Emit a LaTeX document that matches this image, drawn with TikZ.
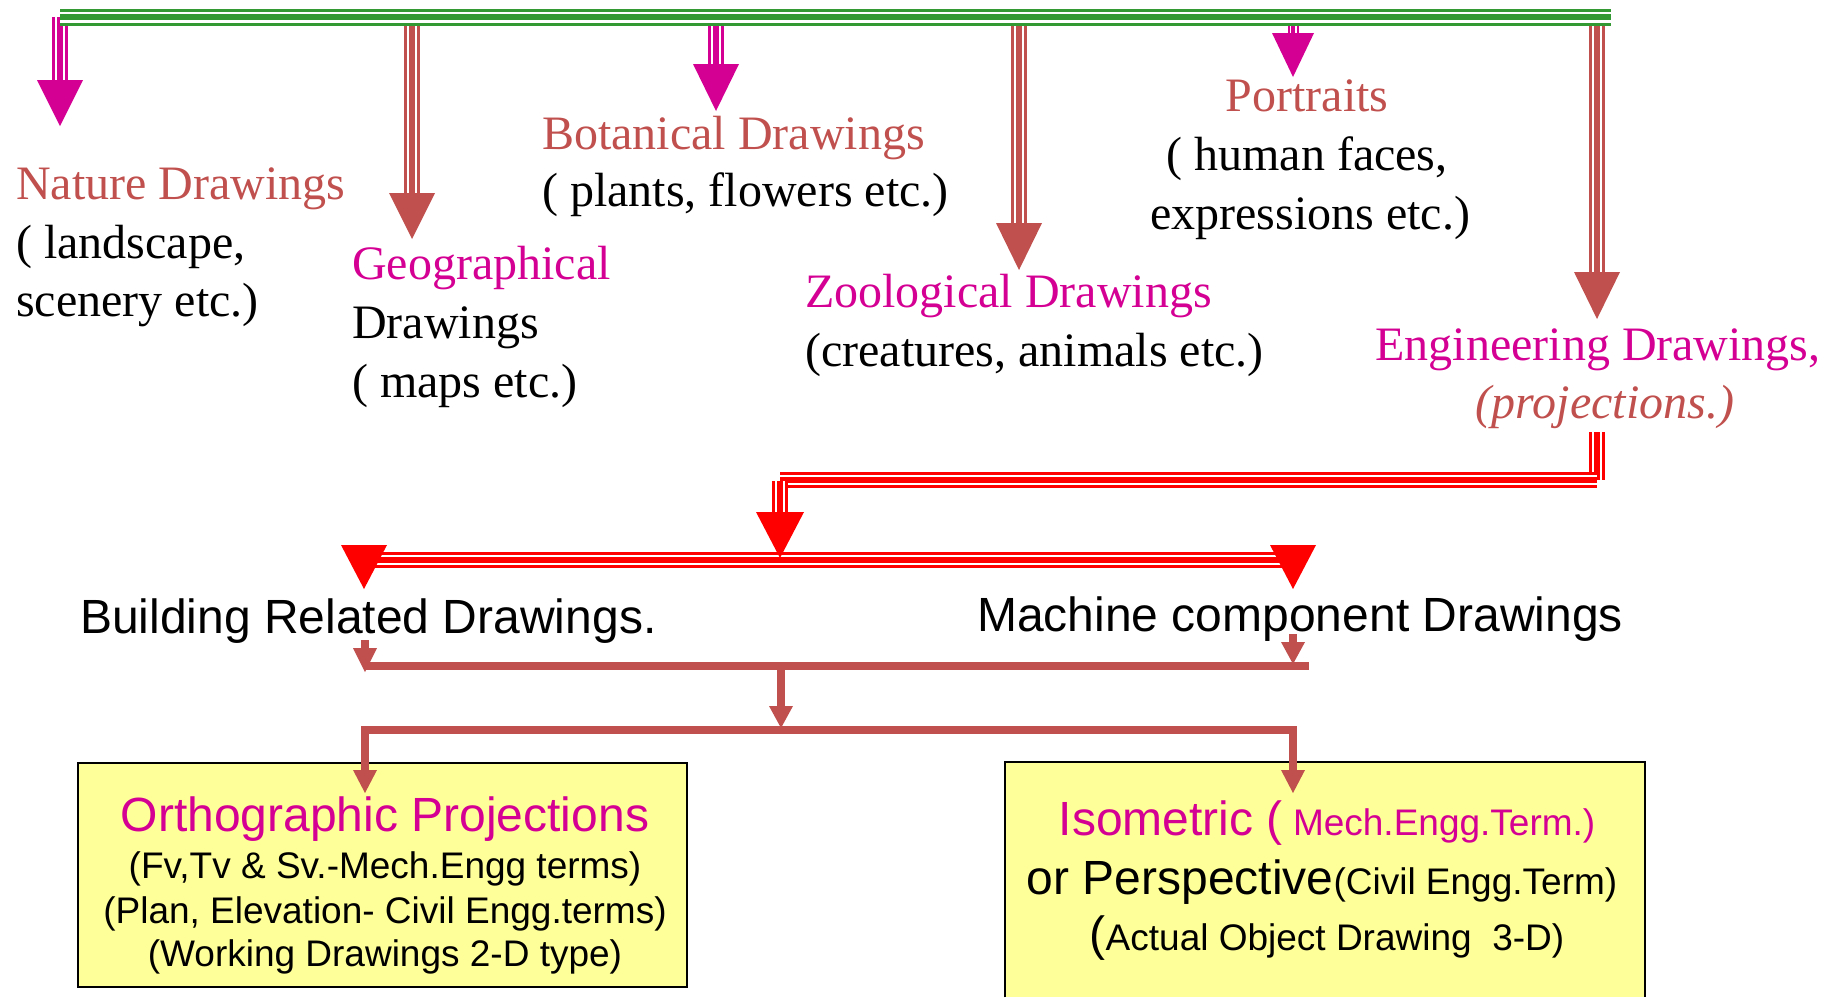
\documentclass[tikz,border=0pt]{standalone}
\usepackage{fontspec}
\setmainfont{Liberation Serif}
\setsansfont{Liberation Sans}
\definecolor{grn}{RGB}{51,153,51}
\definecolor{brn}{RGB}{192,80,77}
\definecolor{mag}{RGB}{212,0,148}
\definecolor{rd}{RGB}{255,0,0}
\definecolor{ylw}{RGB}{255,255,153}
\tikzset{
  tripG/.style={draw=grn, line width=17pt, postaction={draw=white, line width=11pt}, postaction={draw=grn, line width=5.5pt}},
  tripM/.style={draw=mag, line width=15.5pt, postaction={draw=white, line width=10.5pt}, postaction={draw=mag, line width=5.5pt}},
  tripMs/.style={draw=mag, line width=11pt, postaction={draw=white, line width=7pt}, postaction={draw=mag, line width=3.5pt}},
  tripB/.style={draw=brn, line width=15.5pt, postaction={draw=white, line width=10.5pt}, postaction={draw=brn, line width=5.5pt}},
  tripR/.style={draw=rd, line width=16pt, postaction={draw=white, line width=10pt}, postaction={draw=rd, line width=5.5pt}},
  bar/.style={draw=brn, line width=8pt},
  ser/.style={font=\fontsize{48}{58}\selectfont, inner sep=0pt, anchor=base west},
  serc/.style={font=\fontsize{48}{58}\selectfont, inner sep=0pt, anchor=base},
  sanb/.style={font=\sffamily\fontsize{48}{58}\selectfont, inner sep=0pt},
  sans/.style={font=\sffamily\fontsize{37}{45}\selectfont, inner sep=0pt, anchor=base},
  pics/hd/.style args={#1/#2/#3}{code={\fill[#1] (-#2,0) -- (#2,0) -- (0,#3) -- cycle;}}
}
\begin{document}
\begin{tikzpicture}[x=1pt, y=-1pt]
\useasboundingbox (0,0) rectangle (1841,997);

% ---- top level nodes ----
\node[ser, text=brn] (nat) at (16,199) {Nature Drawings};
\node[ser] (nat2) at (16,258) {( landscape,};
\node[ser] (nat3) at (16,316) {scenery etc.)};

\node[ser, text=mag] (geo) at (352,279) {Geographical};
\node[ser] (geo2) at (352,338) {Drawings};
\node[ser] (geo3) at (352,397) {( maps etc.)};

\node[ser, text=brn] (bot) at (542,149) {Botanical Drawings};
\node[ser] (bot2) at (542,206) {( plants, flowers etc.)};

\node[ser, text=mag] (zoo) at (805,307) {Zoological Drawings};
\node[ser] (zoo2) at (805,366) {(creatures, animals etc.)};

\node[serc, text=brn] (por) at (1307,111) {Portraits};
\node[serc] (por2) at (1307,170) {( human faces,};
\node[serc] (por3) at (1310,229) {expressions etc.)};

\node[serc, text=mag] (eng) at (1598,360) {Engineering Drawings,};
\node[serc, text=brn, font=\fontsize{48}{58}\selectfont\itshape] (eng2) at (1605,418) {(projections.)};

% ---- coordinates on the green bar ----
\coordinate (gL) at (60,17);
\coordinate (gR) at (1611,17);
\coordinate (gNat) at (60,17);   \coordinate (hNat) at (60,81);
\coordinate (gGeo) at (412,17);  \coordinate (hGeo) at (412,194);
\coordinate (gBot) at (716,17);  \coordinate (hBot) at (716,65);
\coordinate (gZoo) at (1019,17); \coordinate (hZoo) at (1019,224);
\coordinate (gPor) at (1293,17); \coordinate (hPor) at (1293,34);
\coordinate (gEng) at (1597,17); \coordinate (hEng) at (1597,273);

\draw[tripM] (gNat) -- (hNat);  \pic at (60,80) {hd=mag/23/46};
\draw[tripB] (gGeo) -- (hGeo);  \pic at (412,193) {hd=brn/23/46};
\draw[tripM] (gBot) -- (hBot);  \pic at (716,64) {hd=mag/23/47};
\draw[tripB] (gZoo) -- (hZoo);  \pic at (1019,223) {hd=brn/23/47};
\draw[tripMs] (gPor) -- (hPor); \pic at (1293,33) {hd=mag/21/44};
\draw[tripB] (gEng) -- (hEng);  \pic at (1597,272) {hd=brn/23/47};
\draw[tripG] (gL) -- (gR);

% ---- red distribution ----
\coordinate (r0) at (1597,432);
\coordinate (r1) at (1597,480);
\coordinate (r2) at (780,480);
\coordinate (r2b) at (780,481);
\coordinate (r3) at (780,514);
\draw[tripR] (r0) -- (r1);
\draw[tripR] (r1) -- (r2);
\draw[tripR] (r2b) -- (r3);
\coordinate (rbL) at (364,560);
\coordinate (rbR) at (1293,560);
\draw[tripR] (rbL) -- (rbR);
\pic at (364,545) {hd=rd/23/44};
\pic at (1293,545) {hd=rd/23/44};
\pic at (780,512) {hd=rd/24/46};

% ---- second level ----
\node[sanb, anchor=base west] (bld) at (80,633) {Building Related Drawings.};
\node[sanb, anchor=base west] (mac) at (977,631) {Machine component Drawings};

% ---- boxes ----
\node[draw=black, line width=2pt, fill=ylw, minimum width=609pt, minimum height=224pt, anchor=north west, inner sep=0pt] (boxL) at (77,762) {};
\node[fill=ylw, minimum width=640pt, minimum height=235pt, anchor=north west, inner sep=0pt] (boxR) at (1005,762) {};
\draw[black, line width=2pt] (boxR.south west) -- (boxR.north west) -- (boxR.north east) -- (boxR.south east);

\node[sanb, anchor=base, text=mag] (or1) at (385,831) {Orthographic Projections};
\node[sans] (or2) at (385,878) {(Fv,Tv \& Sv.-Mech.Engg terms)};
\node[sans] (or3) at (385,923) {(Plan, Elevation- Civil Engg.terms)};
\node[sans] (or4) at (385,966) {(Working Drawings 2-D type)};

\node[sans, text=mag] (is1) at (1327,835) {{\fontsize{48}{58}\selectfont Isometric (} Mech.Engg.Term.)};
\node[sans] (is2) at (1322,894) {{\fontsize{48}{58}\selectfont or Perspective}(Civil Engg.Term)};
\node[sans] (is3) at (1327,950) {{\fontsize{48}{58}\selectfont (}Actual Object Drawing~~3-D)};

% ---- brown connectors ----
\coordinate (sL0) at (365,640); \coordinate (sL1) at (365,650);
\coordinate (sR0) at (1293,634); \coordinate (sR1) at (1293,644);
\coordinate (b1L) at (365,666); \coordinate (b1R) at (1309,666);
\coordinate (m0) at (781,666); \coordinate (m1) at (781,708);
\coordinate (b2L) at (365,730); \coordinate (b2R) at (1293,730);
\coordinate (b2Lv) at (365,726); \coordinate (b2Rv) at (1293,726);
\coordinate (dL) at (365,772); \coordinate (dR) at (1293,772);

\draw[bar] (b1L) -- (b1R);
\draw[bar] (sL0) -- (sL1); \pic at (365,648) {hd=brn/12/24};
\draw[bar] (sR0) -- (sR1); \pic at (1293,642) {hd=brn/12/22};
\draw[bar] (m0) -- (m1); \pic at (781,706) {hd=brn/12/22};
\draw[bar] (b2L) -- (b2R);
\draw[bar] (b2Lv) -- (dL); \pic at (365,770) {hd=brn/12/23};
\draw[bar] (b2Rv) -- (dR); \pic at (1293,770) {hd=brn/12/23};
\end{tikzpicture}
\end{document}
